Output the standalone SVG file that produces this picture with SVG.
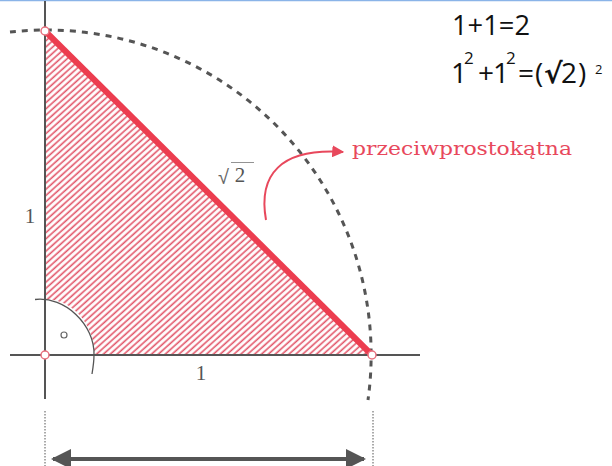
<svg xmlns="http://www.w3.org/2000/svg" width="612" height="466" viewBox="0 0 612 466">
<style>
.axis{stroke:#555;stroke-width:2;fill:none}
.lbl{font-family:"Liberation Serif",serif;fill:#555}
.eq{font-family:"Open Sans","DejaVu Sans",sans-serif;fill:#111}
.pt{fill:#fff;stroke:#e8707e;stroke-width:1.5}
</style>
<defs>
<pattern id="hatch" patternUnits="userSpaceOnUse" width="4.6" height="4.6" patternTransform="rotate(-42)">
<rect width="4.6" height="4.6" fill="#fff"/>
<line x1="0" y1="1.2" x2="4.6" y2="1.2" stroke="#e25568" stroke-width="1.6"/>
</pattern>
<marker id="ah" viewBox="0 0 10 10" refX="9" refY="5" markerWidth="5" markerHeight="5" orient="auto-start-reverse" markerUnits="strokeWidth">
<path d="M0,0 L10,5 L0,10 z" fill="#555"/>
</marker>
<marker id="rh" viewBox="0 0 10 10" refX="9" refY="5" markerWidth="6" markerHeight="6" orient="auto" markerUnits="strokeWidth">
<path d="M0,0 L10,5 L0,10 z" fill="#e8485c"/>
</marker>
</defs>
<rect width="612" height="466" fill="#fff"/>
<line x1="0" y1="0.5" x2="612" y2="0.5" stroke="#8ab4e8" stroke-width="1.5"/>

<g id="triangle">
<polygon points="45,31 45,355 372,355" fill="url(#hatch)"/>
<path d="M45,355 L45,299.5 C72,298 95,325 94,355 Z" fill="#fff"/>
</g>

<g id="axes">
<line class="axis" x1="45" y1="1" x2="45" y2="399"/>
<line class="axis" x1="10" y1="355" x2="420" y2="355"/>
</g>

<g id="circle-arc">
<path d="M10,32 A325,325 0 0 1 368,400" fill="none" stroke="#555" stroke-width="3" stroke-dasharray="6,6"/>
</g>

<g id="right-angle">
<path d="M35,299.5 C65,296 95,325 94,355 C94,362 93,368 92,374" fill="none" stroke="#555" stroke-width="1.3"/>
<circle cx="64" cy="335" r="3" fill="none" stroke="#666" stroke-width="1.2"/>
</g>

<g id="hypotenuse">
<line x1="45" y1="31" x2="372" y2="355" stroke="#ec3d4f" stroke-width="6"/>
</g>

<g id="points">
<circle class="pt" cx="45" cy="31" r="4"/>
<circle class="pt" cx="45" cy="355" r="4"/>
<circle class="pt" cx="372" cy="355" r="4"/>
</g>

<g id="labels">
<text class="lbl" x="30" y="223" font-size="21" text-anchor="middle">1</text>
<text class="lbl" x="201" y="380" font-size="21" text-anchor="middle">1</text>
<text x="218" y="184" font-size="20" fill="#666" style="font-family:'DejaVu Sans',sans-serif;font-weight:200">√</text>
<line x1="231" y1="162.5" x2="254" y2="162.5" stroke="#777" stroke-width="0.8"/>
<text class="lbl" x="240" y="182" font-size="21" text-anchor="middle">2</text>
</g>

<g id="connectors">
<path d="M266,220 C258,175 280,148 343,152" fill="none" stroke="#e8485c" stroke-width="2" marker-end="url(#rh)"/>
<line x1="53" y1="459" x2="364" y2="459" stroke="#555" stroke-width="4" marker-start="url(#ah)" marker-end="url(#ah)"/>
<line x1="45" y1="411" x2="45" y2="466" stroke="#555" stroke-width="1" stroke-dasharray="1.5,1.5"/>
<line x1="373" y1="411" x2="373" y2="466" stroke="#555" stroke-width="1" stroke-dasharray="1.5,1.5"/>
</g>

<g id="hyp-label">
<text x="352" y="155" font-family="'DejaVu Serif','Liberation Serif',serif" font-size="19" fill="#e8485c" textLength="220" lengthAdjust="spacingAndGlyphs">przeciwprostokątna</text>
</g>

<g id="equations">
<text class="eq" x="452" y="35" font-size="28" textLength="78" lengthAdjust="spacingAndGlyphs">1+1=2</text>
<text class="eq" font-size="28"><tspan x="451" y="83">1</tspan><tspan x="464" y="64" font-size="17">2</tspan><tspan x="478" y="83">+</tspan><tspan x="493" y="83">1</tspan><tspan x="506" y="64" font-size="17">2</tspan><tspan x="518" y="83">=</tspan><tspan x="535" y="83">(</tspan><tspan x="544" y="83" font-weight="bold" style="font-family:'DejaVu Sans',sans-serif">√</tspan><tspan x="561" y="83">2</tspan><tspan x="578" y="83">)</tspan><tspan x="595" y="74" font-size="13">2</tspan></text>
</g>
</svg>
